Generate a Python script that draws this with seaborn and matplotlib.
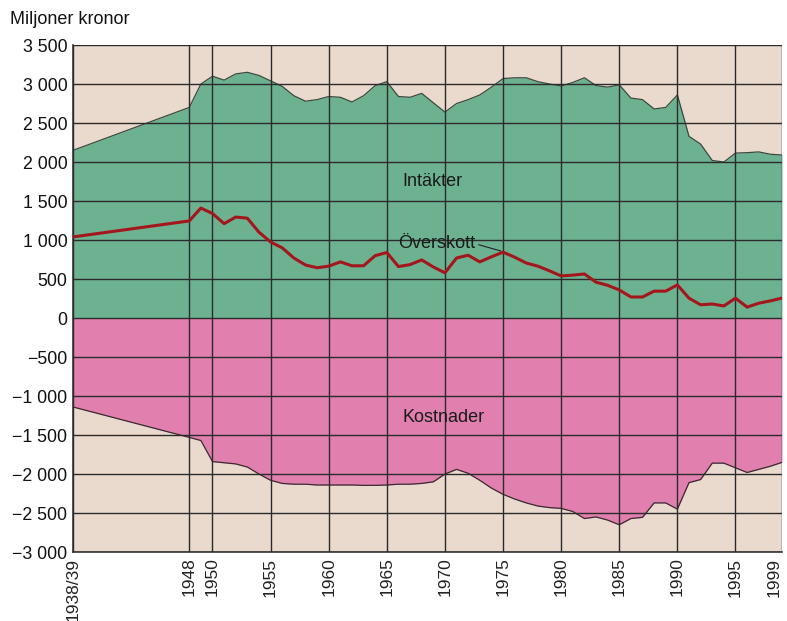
import matplotlib
matplotlib.use("Agg")
import matplotlib.pyplot as plt
import seaborn as sns
import pandas as pd

# ---- data (millions SEK) ----
years = [1938, 1948, 1949, 1950, 1951, 1952, 1953, 1954, 1955, 1956, 1957, 1958, 1959,
         1960, 1961, 1962, 1963, 1964, 1965, 1966, 1967, 1968, 1969, 1970, 1971, 1972,
         1973, 1974, 1975, 1976, 1977, 1978, 1979, 1980, 1981, 1982, 1983, 1984, 1985,
         1986, 1987, 1988, 1989, 1990, 1991, 1992, 1993, 1994, 1995, 1996, 1997, 1998, 1999]

intakter = [2150, 2700, 3000, 3100, 3050, 3130, 3150, 3110, 3040, 2970, 2850, 2780, 2800,
            2840, 2830, 2770, 2850, 2980, 3030, 2840, 2830, 2880, 2760, 2640, 2750, 2800,
            2860, 2960, 3070, 3080, 3080, 3030, 3000, 2975, 3020, 3080, 2980, 2960, 2990,
            2820, 2800, 2680, 2700, 2860, 2330, 2230, 2020, 2000, 2115, 2120, 2130, 2100, 2090]

kostnader = [-1140, -1530, -1570, -1840, -1855, -1870, -1910, -2000, -2080, -2120, -2130, -2130, -2140,
             -2140, -2140, -2140, -2145, -2145, -2140, -2130, -2130, -2120, -2100, -2000, -1940, -1990,
             -2080, -2180, -2260, -2320, -2370, -2410, -2430, -2440, -2480, -2570, -2550, -2590, -2650,
             -2570, -2555, -2370, -2370, -2450, -2110, -2070, -1860, -1860, -1920, -1980, -1940, -1900, -1850]

overskott = [1040, 1245, 1410, 1340, 1210, 1295, 1280, 1100, 975, 900, 770, 680, 645,
             665, 720, 670, 670, 800, 840, 660, 685, 745, 655, 580, 770, 805,
             720, 785, 845, 780, 705, 665, 605, 540, 550, 565, 460, 420, 360,
             270, 270, 345, 345, 425, 255, 170, 180, 155, 255, 140, 190, 220, 256]

x_ticks = [1938, 1948, 1950, 1955, 1960, 1965, 1970, 1975, 1980, 1985, 1990, 1995, 1999]
x_ticklabels = ["1938/39", "1948", "1950", "1955", "1960", "1965", "1970", "1975",
                "1980", "1985", "1990", "1995", "1999"]
y_ticks = [-3000, -2500, -2000, -1500, -1000, -500, 0, 500, 1000, 1500, 2000, 2500, 3000, 3500]
y_ticklabels = ["\u22123 000", "\u22122 500", "\u22122 000", "\u22121 500", "\u22121 000", "\u2212500",
                "0", "500", "1 000", "1 500", "2 000", "2 500", "3 000", "3 500"]

df = pd.DataFrame({"year": years, "intakter": intakter,
                   "kostnader": kostnader, "overskott": overskott})

sns.set_style("white")
plt.rcParams["font.family"] = ["Liberation Sans", "DejaVu Sans"]

fig = plt.figure(figsize=(7.87, 6.21), dpi=100)
ax = fig.add_axes([0.0928, 0.111, 0.9008, 0.8165])
ax.set_facecolor("#e9dacd")

ax.fill_between(df["year"], 0, df["intakter"], color="#6db290", zorder=1, linewidth=0)
ax.fill_between(df["year"], 0, df["kostnader"], color="#e17fae", zorder=1, linewidth=0)
ax.plot(df["year"], df["intakter"], color="#3a4a40", lw=0.9, zorder=1.2)
ax.plot(df["year"], df["kostnader"], color="#3a2a30", lw=0.9, zorder=1.2)

sns.lineplot(data=df, x="year", y="overskott", ax=ax, color="#a3161c", lw=2.2, zorder=3)

ax.set_xlim(1938, 1999)
ax.set_ylim(-3000, 3500)
ax.set_xticks(x_ticks)
ax.set_xticklabels(x_ticklabels, rotation=90, fontsize=12.5, color="#222222")
ax.set_yticks(y_ticks)
ax.set_yticklabels(y_ticklabels, fontsize=12.8, color="#111111")
ax.set_xlabel("")
ax.set_ylabel("")

# keep the last x label inside the figure
ax.get_xticklabels()[-1].set_horizontalalignment("right")

ax.set_axisbelow(False)
ax.grid(True, color="#2b2b2b", lw=1.0)
ax.tick_params(axis="both", length=0, pad=4)
for s in ["top", "right"]:
    ax.spines[s].set_visible(False)
ax.spines["left"].set_color("#333333")
ax.spines["bottom"].set_color("#333333")
ax.spines["left"].set_linewidth(1.2)
ax.spines["bottom"].set_linewidth(1.2)

ax.text(1968.9, 1750, "Intäkter", fontsize=13, color="#1a1a1a", ha="center", va="center", zorder=4)
ax.text(1969.3, 960, "Överskott", fontsize=13, color="#1a1a1a", ha="center", va="center", zorder=4)
ax.plot([1972.9, 1974.8], [940, 860], color="#222222", lw=0.8, zorder=4)
ax.text(1969.9, -1270, "Kostnader", fontsize=13, color="#1a1a1a", ha="center", va="center", zorder=4)

fig.text(0.013, 0.968, "Miljoner kronor", fontsize=13, color="#111111", ha="left", va="center")

fig.savefig("out.png", dpi=100)
